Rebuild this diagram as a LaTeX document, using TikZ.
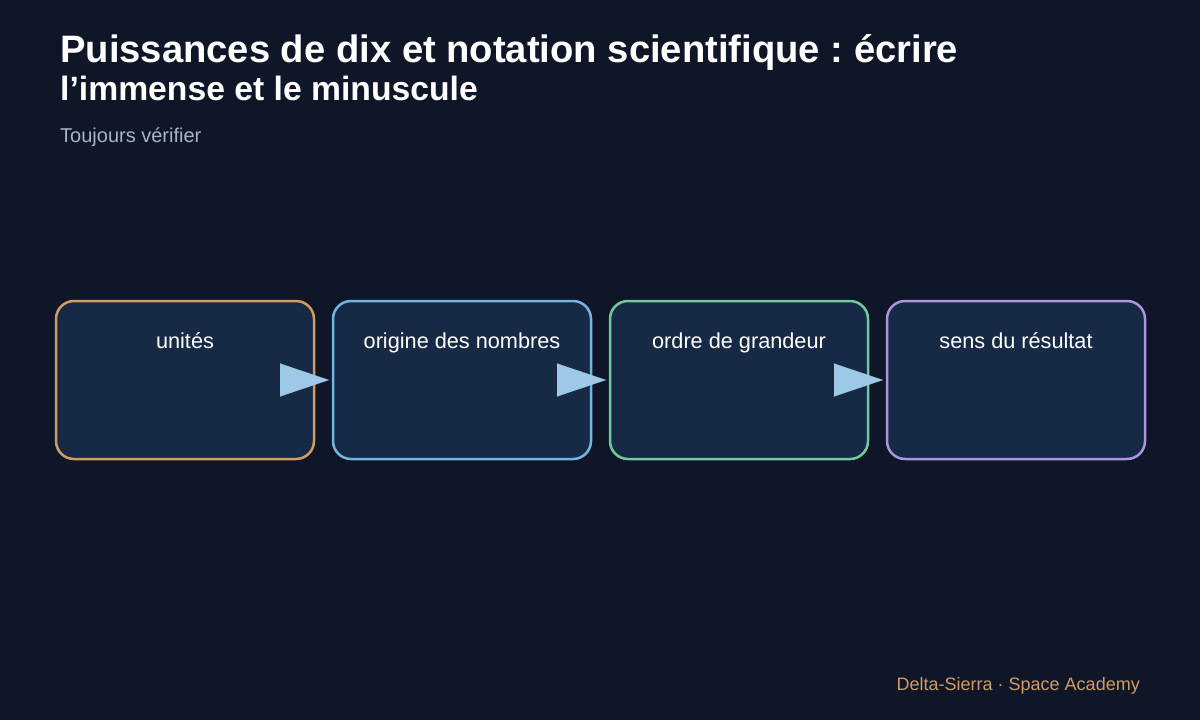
\documentclass[tikz,border=0pt]{standalone}
\usepackage{fontspec}
\setmainfont{Liberation Sans}
\usetikzlibrary{calc,arrows.meta}
\frenchspacing
\definecolor{fond}{HTML}{0E1628}
\definecolor{boite}{HTML}{172A45}
\definecolor{cuivre}{HTML}{D29B63}
\definecolor{ciel}{HTML}{72B5DF}
\definecolor{menthe}{HTML}{74C99C}
\definecolor{lilas}{HTML}{AC95DC}
\definecolor{fleche}{HTML}{9DC8E6}
\definecolor{gris}{HTML}{A6B4C8}
\tikzset{
  etape/.style={draw=#1, fill=boite, line width=2.5pt, rounded corners=18pt,
    minimum width=258pt, minimum height=158pt, anchor=north west, inner sep=0pt, outer sep=0pt},
  etiq/.style={text=white, font=\fontsize{21.7}{26}\selectfont, anchor=base},
  flow/.style={draw=fleche, line width=0.1pt, -{Triangle[length=49pt,width=33pt,fill=fleche]}},
}
\begin{document}
\begin{tikzpicture}[x=1pt,y=-1pt]
	\fill[fond] (0,0) rectangle (1200,720);
	\useasboundingbox (0,0) rectangle (1200,720);
	\node[anchor=base west, inner sep=0pt, text=white, font=\bfseries\fontsize{38.2}{44}\selectfont] (titre) at (60,62) {Puissances de dix et notation scientifique : écrire};
	\node[anchor=base west, inner sep=0pt, text=white, font=\bfseries\fontsize{33.7}{40}\selectfont] (titreb) at (60,100) {l’immense et le minuscule};
	\node[anchor=base west, inner sep=0pt, text=gris, font=\fontsize{20}{24}\selectfont] (soustitre) at (60,142) {Toujours vérifier};
	\node[etape=cuivre] (b1) at (56,301) {};
	\node[etape=ciel] (b2) at (333,301) {};
	\node[etape=menthe] (b3) at (610,301) {};
	\node[etape=lilas] (b4) at (887,301) {};
	\node[etiq] (t1) at ($(b1.north)+(0,47)$) {unités};
	\node[etiq] (t2) at ($(b2.north)+(0,47)$) {origine des nombres};
	\node[etiq] (t3) at ($(b3.north)+(0,47)$) {ordre de grandeur};
	\node[etiq] (t4) at ($(b4.north)+(0,47)$) {sens du résultat};
	\draw[flow] ([xshift=-34pt]b1.east) -- ([xshift=-4pt]b2.west);
	\draw[flow] ([xshift=-34pt]b2.east) -- ([xshift=-4pt]b3.west);
	\draw[flow] ([xshift=-34pt]b3.east) -- ([xshift=-4pt]b4.west);
	\node[anchor=base east, inner sep=0pt, text=cuivre, font=\fontsize{18}{22}\selectfont] (pied) at (1140,690) {Delta-Sierra · Space Academy};
\end{tikzpicture}
\end{document}
